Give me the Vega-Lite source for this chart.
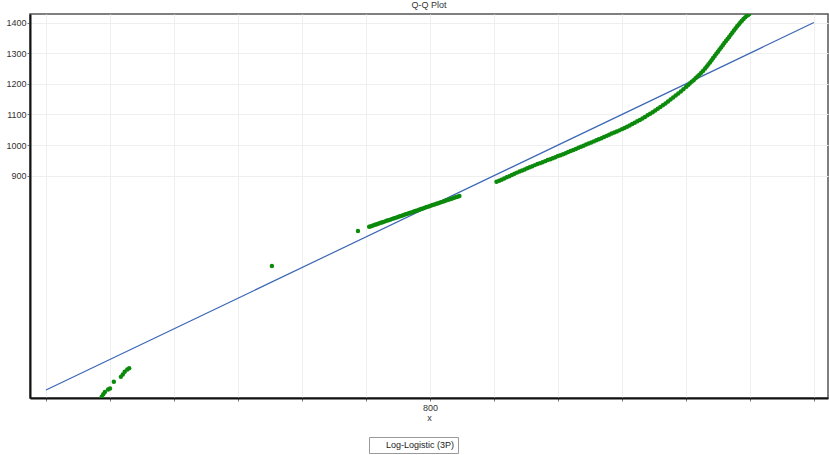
{
  "$schema": "https://vega.github.io/schema/vega-lite/v6.json",
  "width": 798,
  "height": 384,
  "autosize": {"type": "none"},
  "padding": {"left": 30, "top": 14, "right": 1, "bottom": 57},
  "background": "white",
  "title": {"text": "Q-Q Plot", "fontSize": 9, "font": "Liberation Sans", "fontWeight": "normal", "color": "#333", "offset": 4, "anchor": "middle"},
  "config": {
    "view": {"stroke": "#555", "strokeWidth": 1.5},
    "axis": {"labelFont": "Liberation Sans", "titleFont": "Liberation Sans", "labelFontSize": 9, "titleFontSize": 9, "labelColor": "#333", "titleColor": "#333", "titleFontWeight": "normal", "domainColor": "#111", "domainWidth": 2, "tickColor": "#777", "tickSize": 3, "gridColor": "#efefef", "gridWidth": 1}
  },
  "datasets": {
    "refline": [{"x": 200, "y": 200}, {"x": 1400, "y": 1400}],
    "points": [
      {"x": 287, "y": 178}, {"x": 289.5, "y": 186}, {"x": 292, "y": 194}, {"x": 297, "y": 202}, {"x": 300, "y": 205},
      {"x": 306, "y": 227}, {"x": 317, "y": 243}, {"x": 320, "y": 251}, {"x": 323, "y": 260}, {"x": 327, "y": 267}, {"x": 330, "y": 271},
      {"x": 553, "y": 605}, {"x": 687.5, "y": 719},
      {"x": 705, "y": 733}, {"x": 708, "y": 735}, {"x": 711, "y": 737}, {"x": 714, "y": 739.5}, {"x": 717, "y": 741.5}, {"x": 720, "y": 744},
      {"x": 723, "y": 746}, {"x": 726, "y": 748}, {"x": 729, "y": 750}, {"x": 732, "y": 752.5}, {"x": 735, "y": 754.5}, {"x": 738, "y": 756.5},
      {"x": 741, "y": 759}, {"x": 744, "y": 761}, {"x": 747, "y": 763}, {"x": 750, "y": 765}, {"x": 753, "y": 767.5}, {"x": 756, "y": 769.5},
      {"x": 759, "y": 771.5}, {"x": 762, "y": 774}, {"x": 765, "y": 776}, {"x": 768, "y": 778}, {"x": 771, "y": 780}, {"x": 774, "y": 782.5},
      {"x": 777, "y": 784.5}, {"x": 780, "y": 786.5}, {"x": 783, "y": 789}, {"x": 786, "y": 791}, {"x": 789, "y": 793}, {"x": 792, "y": 795},
      {"x": 795, "y": 797.5}, {"x": 798, "y": 799.5}, {"x": 801, "y": 801.5}, {"x": 804, "y": 804}, {"x": 807, "y": 806}, {"x": 810, "y": 808},
      {"x": 813, "y": 810}, {"x": 816, "y": 812.5}, {"x": 819, "y": 814.5}, {"x": 822, "y": 816.5}, {"x": 825, "y": 819}, {"x": 828, "y": 821},
      {"x": 831, "y": 823}, {"x": 834, "y": 825}, {"x": 837, "y": 827.5}, {"x": 840, "y": 829.5}, {"x": 843, "y": 831.5}, {"x": 846, "y": 834},
      {"x": 904, "y": 880}, {"x": 908, "y": 883.5}, {"x": 912, "y": 887}, {"x": 916, "y": 891}, {"x": 920, "y": 895}, {"x": 924, "y": 898.5},
      {"x": 928, "y": 902}, {"x": 932, "y": 906}, {"x": 936, "y": 910}, {"x": 940, "y": 913.5}, {"x": 944, "y": 917}, {"x": 948, "y": 920.5},
      {"x": 952, "y": 924}, {"x": 956, "y": 927.5}, {"x": 960, "y": 931}, {"x": 964, "y": 934.5}, {"x": 968, "y": 938}, {"x": 972, "y": 941},
      {"x": 976, "y": 944}, {"x": 980, "y": 947.5}, {"x": 984, "y": 951}, {"x": 988, "y": 954}, {"x": 992, "y": 957}, {"x": 996, "y": 960.5},
      {"x": 1000, "y": 964}, {"x": 1004, "y": 967}, {"x": 1008, "y": 970}, {"x": 1012, "y": 973.5}, {"x": 1016, "y": 977}, {"x": 1020, "y": 980.5},
      {"x": 1024, "y": 984}, {"x": 1028, "y": 987.5}, {"x": 1032, "y": 991}, {"x": 1036, "y": 994.5}, {"x": 1040, "y": 998}, {"x": 1044, "y": 1001.5},
      {"x": 1048, "y": 1005}, {"x": 1052, "y": 1008.5}, {"x": 1056, "y": 1012}, {"x": 1060, "y": 1015.5}, {"x": 1064, "y": 1019}, {"x": 1068, "y": 1022.5},
      {"x": 1072, "y": 1026}, {"x": 1076, "y": 1030}, {"x": 1080, "y": 1034}, {"x": 1084, "y": 1037.5}, {"x": 1088, "y": 1041}, {"x": 1092, "y": 1044.5},
      {"x": 1096, "y": 1048}, {"x": 1100, "y": 1052}, {"x": 1104, "y": 1056}, {"x": 1108, "y": 1060}, {"x": 1112, "y": 1064}, {"x": 1116, "y": 1068.5},
      {"x": 1120, "y": 1073}, {"x": 1124, "y": 1077.5}, {"x": 1128, "y": 1082}, {"x": 1132, "y": 1087}, {"x": 1136, "y": 1092}, {"x": 1140, "y": 1097},
      {"x": 1144, "y": 1102}, {"x": 1148, "y": 1107.5}, {"x": 1152, "y": 1113}, {"x": 1156, "y": 1118.5}, {"x": 1160, "y": 1124}, {"x": 1164, "y": 1130},
      {"x": 1168, "y": 1136}, {"x": 1172, "y": 1142.5}, {"x": 1176, "y": 1149}, {"x": 1180, "y": 1155.5}, {"x": 1184, "y": 1162}, {"x": 1188, "y": 1168.5},
      {"x": 1192, "y": 1175}, {"x": 1196, "y": 1182.5}, {"x": 1200, "y": 1190}, {"x": 1203, "y": 1195.5}, {"x": 1206, "y": 1201}, {"x": 1209, "y": 1206.5},
      {"x": 1212, "y": 1212}, {"x": 1215, "y": 1218}, {"x": 1218, "y": 1224}, {"x": 1221, "y": 1230}, {"x": 1224, "y": 1236}, {"x": 1227, "y": 1243},
      {"x": 1230, "y": 1250}, {"x": 1232.5, "y": 1256.5}, {"x": 1235, "y": 1263}, {"x": 1237.5, "y": 1270}, {"x": 1240, "y": 1277}, {"x": 1242.5, "y": 1284},
      {"x": 1245, "y": 1291}, {"x": 1247.5, "y": 1298}, {"x": 1250, "y": 1305}, {"x": 1252.5, "y": 1312}, {"x": 1255, "y": 1319}, {"x": 1257.5, "y": 1326},
      {"x": 1260, "y": 1333}, {"x": 1262.5, "y": 1339.5}, {"x": 1265, "y": 1346}, {"x": 1267.5, "y": 1353}, {"x": 1270, "y": 1360}, {"x": 1272.5, "y": 1367},
      {"x": 1275, "y": 1374}, {"x": 1277.5, "y": 1381}, {"x": 1280, "y": 1388}, {"x": 1282.5, "y": 1394}, {"x": 1285, "y": 1400}, {"x": 1287.5, "y": 1406},
      {"x": 1290, "y": 1412}, {"x": 1292.5, "y": 1417}, {"x": 1295, "y": 1422}, {"x": 1297, "y": 1425}, {"x": 1299, "y": 1428}
    ]
  },
  "layer": [
    {
      "data": {"name": "refline"},
      "mark": {"type": "line", "color": "#3b67b5", "strokeWidth": 1.2, "clip": true},
      "encoding": {
        "x": {"field": "x", "type": "quantitative", "scale": {"domain": [175, 1422], "nice": false, "zero": false},
          "axis": {"values": [200, 300, 400, 500, 600, 700, 800, 900, 1000, 1100, 1200, 1300, 1400], "labelExpr": "datum.value == 800 ? '800' : ''", "title": "x", "titlePadding": 1, "labelPadding": 2}},
        "y": {"field": "y", "type": "quantitative", "scale": {"domain": [174, 1428], "nice": false, "zero": false},
          "axis": {"values": [900, 1000, 1100, 1200, 1300, 1400], "format": "d", "title": null, "labelPadding": 1}}
      }
    },
    {
      "data": {"name": "points"},
      "mark": {"type": "point", "filled": true, "size": 20, "opacity": 1, "clip": true},
      "encoding": {
        "x": {"field": "x", "type": "quantitative"},
        "y": {"field": "y", "type": "quantitative"},
        "color": {"datum": "Log-Logistic (3P)", "type": "nominal", "scale": {"range": ["#0b8a0b"]},
          "legend": {"title": null, "orient": "none", "legendX": 339, "legendY": 423, "strokeColor": "#999", "fillColor": "white", "padding": 3, "symbolOpacity": 0, "symbolSize": 40, "labelFont": "Liberation Sans", "labelFontSize": 9, "labelColor": "#222", "labelOffset": 5}}
      }
    }
  ]
}
